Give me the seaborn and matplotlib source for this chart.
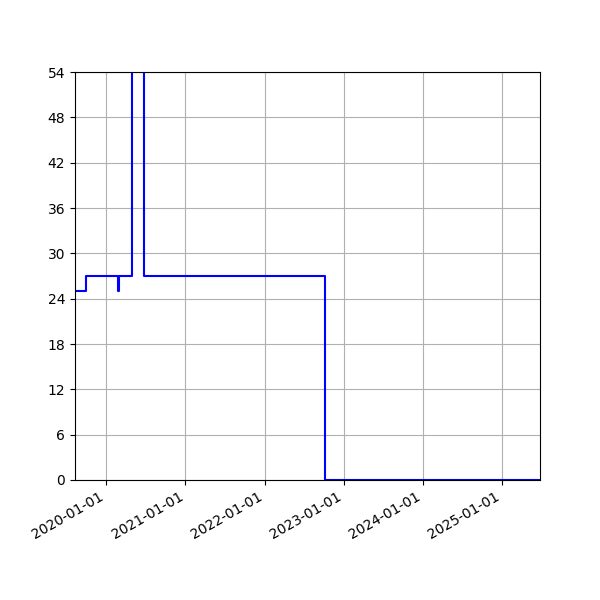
import numpy as np
import pandas as pd
import matplotlib
matplotlib.use("Agg")
import matplotlib.pyplot as plt
import matplotlib.dates as mdates
import seaborn as sns

dates = ["2019-08-11", "2019-10-01", "2020-02-27", "2020-03-02",
         "2020-05-01", "2020-06-25", "2022-10-05", "2025-06-24"]
values = [25, 27, 25, 27, 81, 27, 0, 0]

df = pd.DataFrame({"date": pd.to_datetime(dates), "value": values})

fig, ax = plt.subplots(figsize=(6, 6), dpi=100)
sns.lineplot(data=df, x="date", y="value", color="blue", drawstyle="steps-post",
             estimator=None, linewidth=1.5, ax=ax)

ax.set_xlim(pd.Timestamp("2019-08-11"), pd.Timestamp("2025-06-24"))
ax.set_ylim(0, 54)
ax.set_yticks(np.arange(0, 55, 6))
ax.xaxis.set_major_locator(mdates.YearLocator())
ax.xaxis.set_major_formatter(mdates.DateFormatter("%Y-%m-%d"))
ax.set_xlabel("")
ax.set_ylabel("")
ax.grid(True)
fig.autofmt_xdate()

fig.savefig("out.png")
